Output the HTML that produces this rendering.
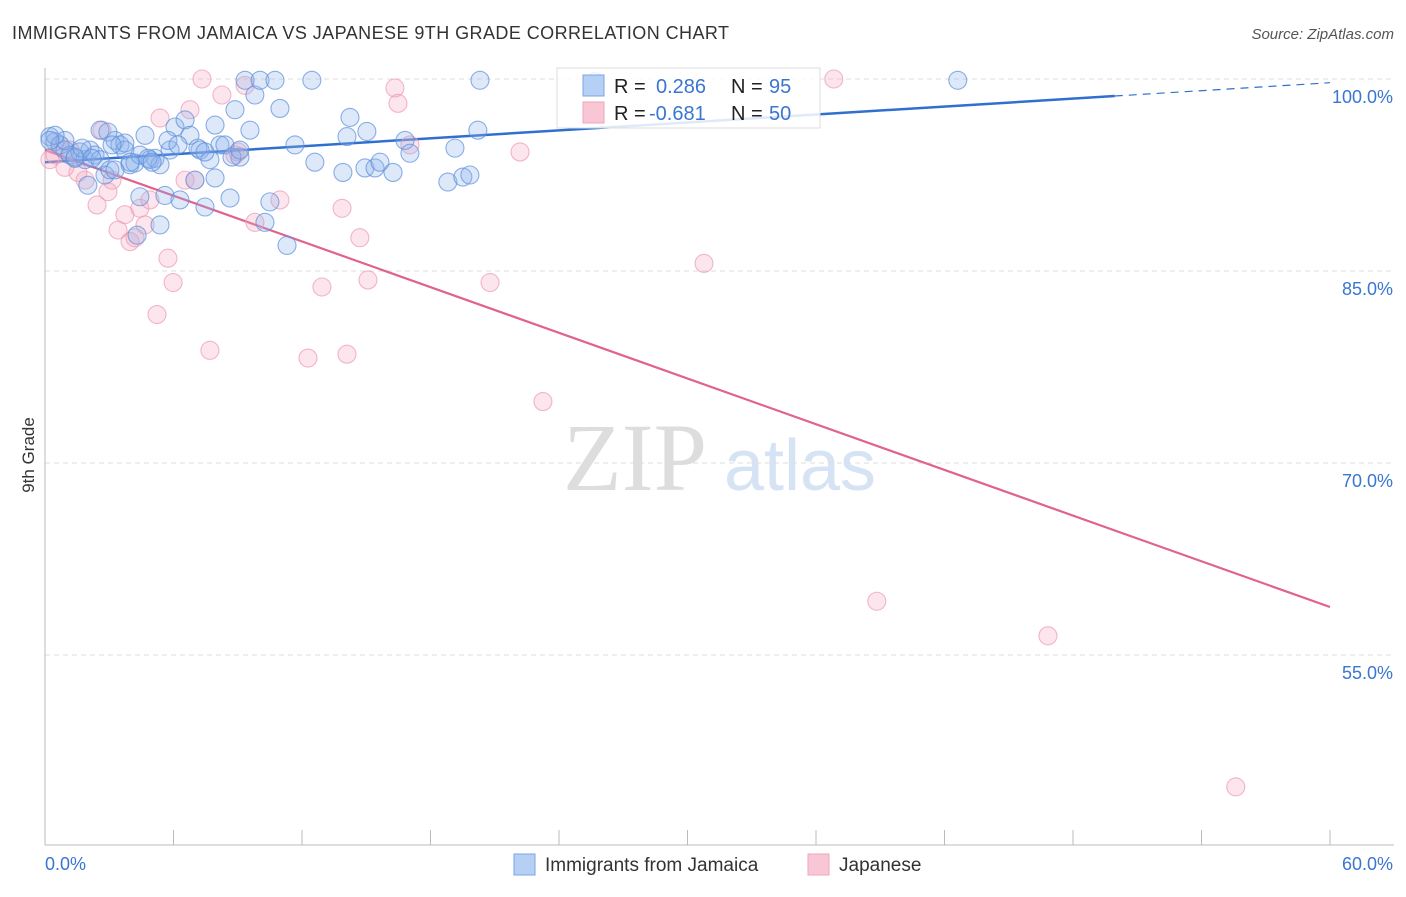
<!DOCTYPE html>
<html><head><meta charset="utf-8"><style>
body{margin:0;background:#fff;font-family:"Liberation Sans",sans-serif;}
svg text{font-family:"Liberation Sans",sans-serif;}
</style></head><body>
<svg id="chart" width="1406" height="892" xmlns="http://www.w3.org/2000/svg">
<text x="12" y="39" font-size="18" fill="#333" textLength="717">IMMIGRANTS FROM JAMAICA VS JAPANESE 9TH GRADE CORRELATION CHART</text>
<text x="1394" y="39" font-size="15" fill="#555" font-style="italic" text-anchor="end">Source: ZipAtlas.com</text>
<text x="34" y="455" font-size="17" fill="#333" transform="rotate(-90 34 455)" text-anchor="middle">9th Grade</text>
<g><text x="635" y="490" font-size="96" fill="#ddd" text-anchor="middle" style="font-family:'Liberation Serif',serif">ZIP</text><text x="800" y="490" font-size="72" fill="#d5e3f5" text-anchor="middle">atlas</text></g>
<g id="grid"></g><g id="axes"></g><g id="lines"></g><g id="points"></g>
<g>
<rect x="557" y="68" width="263" height="60" fill="#fff" fill-opacity="0.85" stroke="#ddd"/>
<rect x="583" y="75" width="21" height="21" fill="#b5cff5" stroke="#7aa5e5"/>
<rect x="583" y="102" width="21" height="21" fill="#f9c6d5" stroke="#eea5bb"/>
<text x="614" y="93" font-size="20" fill="#222">R =</text><text x="656" y="93" font-size="20" fill="#3a75d0">0.286</text>
<text x="731" y="93" font-size="20" fill="#222">N =</text><text x="769" y="93" font-size="20" fill="#3a75d0">95</text>
<text x="614" y="120" font-size="20" fill="#222">R =</text><text x="649" y="120" font-size="20" fill="#3a75d0">-0.681</text>
<text x="731" y="120" font-size="20" fill="#222">N =</text><text x="769" y="120" font-size="20" fill="#3a75d0">50</text>
</g>
<g>
<rect x="514" y="854" width="21" height="21" fill="#b5cff5" stroke="#7aa5e5"/>
<text x="545" y="871" font-size="19" fill="#333">Immigrants from Jamaica</text>
<rect x="808" y="854" width="21" height="21" fill="#f9c6d5" stroke="#eea5bb"/>
<text x="839" y="871" font-size="19" fill="#333">Japanese</text>
</g>
</svg>
<script>
const yTicks=[100,85,70,55];
const yTickLabels=["100.0%","85.0%","70.0%","55.0%"];
const xTickLabels=["0.0%","60.0%"];
const blueX=[0.23,0.47,0.7,0.93,1.17,1.4,1.63,1.87,2.1,2.33,2.57,2.0,2.8,3.03,3.27,3.5,3.73,3.97,4.2,4.43,4.67,4.9,5.14,5.37,5.6,5.84,6.07,6.3,6.54,6.77,7.0,7.24,7.47,7.7,7.94,8.17,8.4,8.64,8.87,9.1,9.34,9.57,9.8,10.04,10.27,10.5,10.74,10.97,11.3,11.67,12.46,12.6,13.91,14.1,14.24,14.94,15.03,15.41,15.64,16.25,16.81,17.04,19.14,18.81,19.51,19.84,20.21,20.31,42.62,25.68,4.43,4.3,5.37,3.27,2.57,3.73,0.93,1.4,1.73,2.19,2.94,3.13,3.97,4.81,5.0,5.74,6.21,7.14,7.47,7.94,8.73,9.1,0.47,0.23];
const blueY=[95.5,95.1,94.85,94.45,94.06,93.8,94.3,93.7,94.45,94.06,93.7,91.7,92.5,92.9,95.2,94.85,94.45,93.3,93.44,94.06,95.6,93.7,93.8,93.3,90.9,94.45,96.25,90.55,96.8,95.6,92.1,94.45,90.0,93.7,96.4,94.85,94.85,90.7,97.6,93.9,99.9,96.0,98.75,99.9,88.8,90.4,99.9,97.7,87.0,94.85,99.9,93.5,92.7,95.5,97.0,93.05,95.9,93.05,93.5,92.7,95.2,94.2,94.6,91.95,92.34,92.5,96.0,99.9,99.9,99.8,90.8,87.8,88.6,92.9,96.0,95.0,95.2,93.9,94.6,93.8,95.85,94.85,93.5,93.8,93.5,95.2,94.85,94.6,94.3,92.27,93.9,94.45,95.6,95.2];
const pinkX=[0.23,0.47,0.93,1.17,1.54,1.87,2.43,2.66,2.94,3.13,3.41,3.73,3.97,4.2,4.43,4.67,4.9,5.23,5.37,5.74,5.98,6.54,6.77,7.0,7.33,7.7,8.26,8.87,9.01,9.34,9.8,10.97,12.28,12.93,13.87,14.1,14.7,15.08,16.34,16.48,17.04,20.78,22.18,23.25,30.77,36.83,38.84,46.83,55.6,0.7];
const pinkY=[93.7,94.06,93.1,94.45,92.7,92.1,90.16,96.0,91.2,92.1,88.2,89.4,87.3,87.6,89.9,88.6,90.55,81.6,96.95,86.0,84.1,92.1,97.6,92.1,100,78.8,98.75,94.06,94.3,99.5,88.8,90.55,78.2,83.75,89.9,78.5,87.6,84.3,99.3,98.1,94.85,84.1,94.3,74.8,85.6,100,59.2,56.5,44.7,94.85];
const blueFit=[93.5,0.1035];
const pinkFit=[94.45,-0.595];
const X0=45,X1=1330,Y100=79,PX=12.8;
const xs=v=>X0+v*(X1-X0)/60;
const ys=v=>Y100+(100-v)*PX;
const NS="http://www.w3.org/2000/svg";
function mk(t,a,p){const e=document.createElementNS(NS,t);for(const k in a)e.setAttribute(k,a[k]);p.appendChild(e);return e;}
const grid=document.getElementById('grid'),axes=document.getElementById('axes'),lines=document.getElementById('lines'),pts=document.getElementById('points');
yTicks.forEach((v,i)=>{
 const l=mk('line',{x1:X0,x2:1394,y1:ys(v),y2:ys(v),stroke:'#ddd','stroke-dasharray':'5,4'},grid);
 
 
 const t=mk('text',{x:1393,y:ys(v)+24,'font-size':18,fill:'#3a75d0','text-anchor':'end'},axes);
 t.textContent=yTickLabels[i];
 
 
});
const ya=mk('line',{x1:X0,x2:X0,y1:68,y2:845,stroke:'#bbb'},axes);


const xa=mk('line',{x1:X0,x2:1394,y1:845,y2:845,stroke:'#bbb'},axes);


for(let i=0;i<=10;i++){const tk=mk('line',{x1:xs(i*6),x2:xs(i*6),y1:830,y2:845,stroke:'#bbb'},axes);
 
 }
[[0,'start',45],[60,'end',1393]].forEach((d,i)=>{const t=mk('text',{x:d[2],y:870,'font-size':18,fill:'#3a75d0','text-anchor':d[1]},axes);t.textContent=xTickLabels[i];
 
 });
function drawPts(X,Y,fill,stroke,name){X.forEach((x,i)=>{const c=mk('circle',{cx:xs(x),cy:ys(Y[i]),r:9,fill:fill,'fill-opacity':0.3,stroke:stroke,'stroke-width':1.1,'stroke-opacity':0.7},pts);
 
 });}
drawPts(pinkX,pinkY,'#f4a8c0','#ec9ab4','japanese-point');
drawPts(blueX,blueY,'#8db4ec','#5d8fdc','jamaica-point');
const f=(fit,x)=>fit[0]+fit[1]*x;
const b1=mk('line',{x1:xs(0),y1:ys(f(blueFit,0)),x2:xs(49.95),y2:ys(f(blueFit,49.95)),stroke:'#2f6fd0','stroke-width':2.5},lines);


const b2=mk('line',{x1:xs(49.95),y1:ys(f(blueFit,49.95)),x2:xs(60),y2:ys(f(blueFit,60)),stroke:'#2f6fd0','stroke-width':1.2,'stroke-dasharray':'8,6'},lines);


const p1=mk('line',{x1:xs(0),y1:ys(f(pinkFit,0)),x2:xs(60),y2:ys(f(pinkFit,60)),stroke:'#e0628e','stroke-width':2.2},lines);


</script>
</body></html>
